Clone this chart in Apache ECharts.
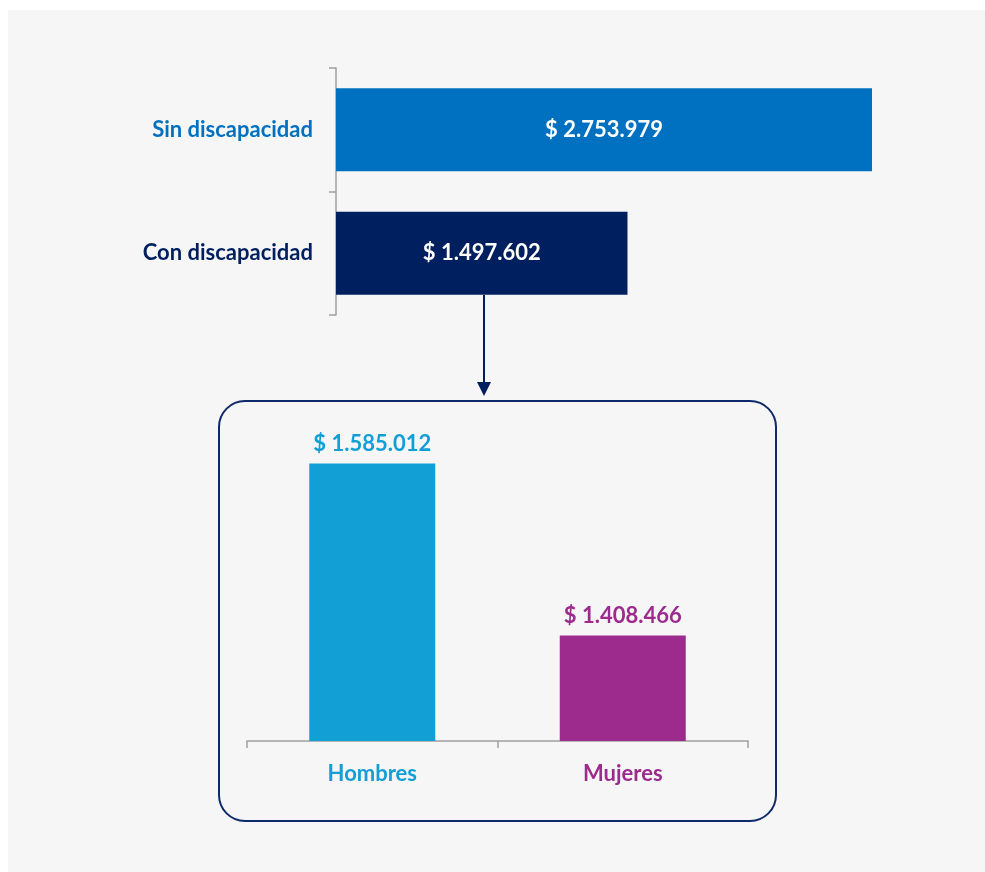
<!DOCTYPE html>
<html>
<head>
<meta charset="utf-8">
<script src="https://cdn.jsdelivr.net/npm/echarts@6/dist/echarts.min.js"></script>
<style>
html,body{margin:0;padding:0;background:#ffffff;}
#chart{width:985px;height:872px;}
</style>
</head>
<body>
<div id="chart"></div>
<script>
// Top chart: ingresos por condición de discapacidad
var topCategories = ['Sin discapacidad', 'Con discapacidad'];
var topValues = [2753979, 1497602];
var topColors = ['#0070C0', '#001F5F'];

// Bottom chart: con discapacidad por sexo
var bottomCategories = ['Hombres', 'Mujeres'];
var bottomValues = [1585012, 1408466];
var bottomColors = ['#119FD6', '#9D2B8E'];

var FONT = 'Lato, "Open Sans", sans-serif';

function fmt(v) {
  return '$ ' + String(v).replace(/\B(?=(\d{3})+(?!\d))/g, '.');
}

var chart = echarts.init(document.getElementById('chart'), null, {renderer: 'canvas'});

var option = {
  backgroundColor: '#ffffff',
  animation: false,
  graphic: [
    {type: 'rect', shape: {x: 8, y: 10, width: 977, height: 862}, style: {fill: '#F6F6F6'}, z: -10, silent: true},
    {type: 'rect', shape: {x: 219, y: 401, width: 557, height: 420, r: 26}, style: {fill: 'none', stroke: '#0E2A6B', lineWidth: 2}, z: 1, silent: true},
    {type: 'line', shape: {x1: 484, y1: 295, x2: 484, y2: 384}, style: {stroke: '#001F5F', lineWidth: 2}, z: 1, silent: true},
    {type: 'polygon', shape: {points: [[477, 382], [491, 382], [484, 396]]}, style: {fill: '#001F5F'}, z: 1, silent: true}
  ],
  grid: [
    {left: 336, top: 68, width: 536, height: 247},
    {left: 247, top: 449, width: 501, height: 292}
  ],
  xAxis: [
    {
      gridIndex: 0, type: 'value', min: 0, max: 2753979, show: false
    },
    {
      gridIndex: 1, type: 'category', data: bottomCategories,
      axisLine: {lineStyle: {color: '#A0A0A0', width: 1.5}},
      axisTick: {show: true, length: 7, lineStyle: {color: '#A0A0A0', width: 1.5}},
      axisLabel: {
        margin: 22, fontFamily: FONT, fontWeight: 'bold', fontSize: 22,
        color: function (v, i) { return bottomColors[bottomCategories.indexOf(v)]; }
      }
    }
  ],
  yAxis: [
    {
      gridIndex: 0, type: 'category', data: topCategories, inverse: true,
      axisLine: {lineStyle: {color: '#A0A0A0', width: 1.5}},
      axisTick: {show: true, length: 7, lineStyle: {color: '#A0A0A0', width: 1.5}},
      axisLabel: {
        margin: 23, fontFamily: FONT, fontWeight: 'bold', fontSize: 22,
        color: function (v) { return topColors[topCategories.indexOf(v)]; }
      }
    },
    {
      gridIndex: 1, type: 'value', min: 1300000, max: 1600000, show: false
    }
  ],
  series: [
    {
      type: 'bar', xAxisIndex: 0, yAxisIndex: 0, barWidth: 83,
      data: topValues.map(function (v, i) { return {value: v, itemStyle: {color: topColors[i]}}; }),
      label: {
        show: true, position: 'inside', color: '#ffffff', fontFamily: FONT,
        fontWeight: 'bold', fontSize: 22,
        formatter: function (p) { return fmt(p.value); }
      },
      z: 2
    },
    {
      type: 'bar', xAxisIndex: 1, yAxisIndex: 1, barWidth: 126,
      data: bottomValues.map(function (v, i) {
        return {value: v, itemStyle: {color: bottomColors[i]}, label: {color: bottomColors[i]}};
      }),
      label: {
        show: true, position: 'top', distance: 9, fontFamily: FONT,
        fontWeight: 'bold', fontSize: 22,
        formatter: function (p) { return fmt(p.value); }
      },
      z: 2
    }
  ]
};

chart.setOption(option);
</script>
</body>
</html>
